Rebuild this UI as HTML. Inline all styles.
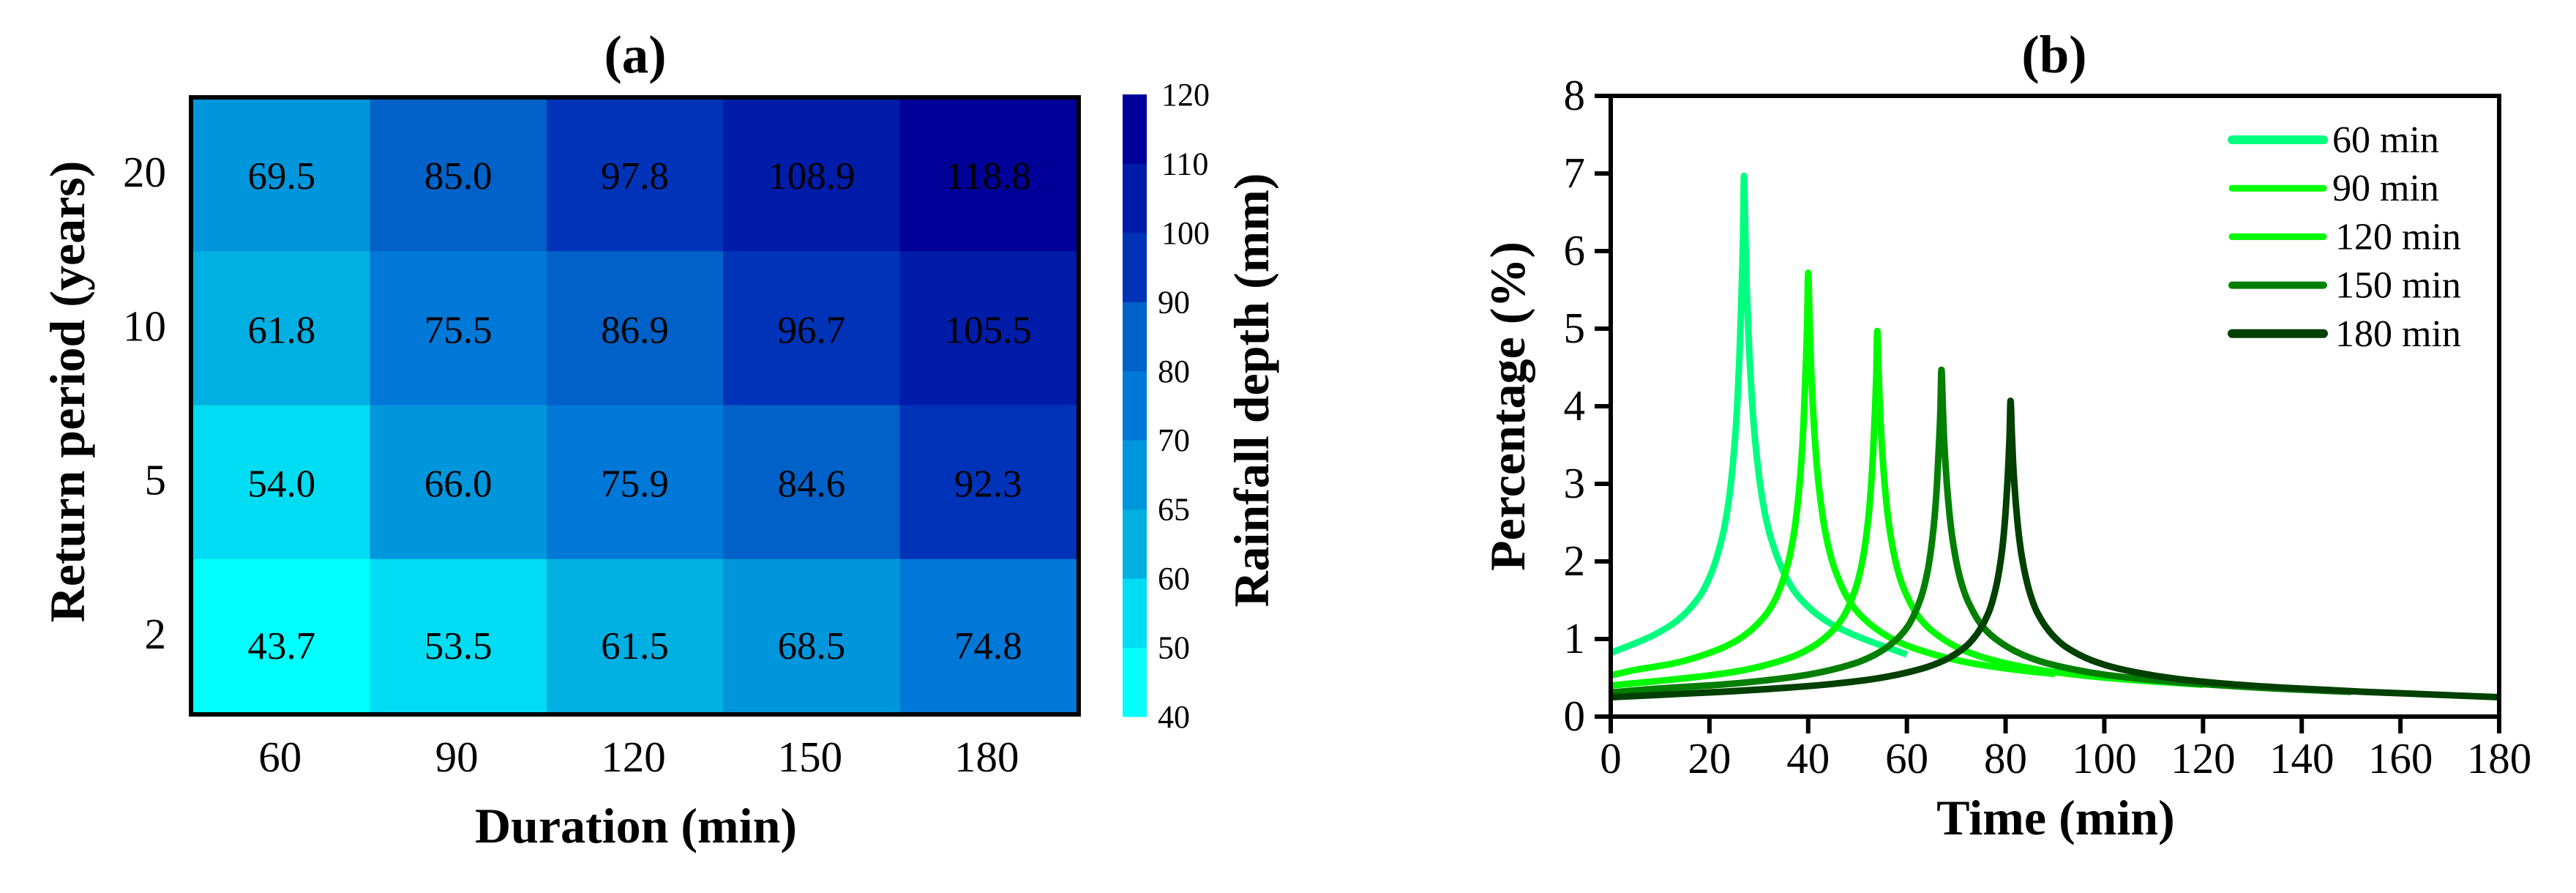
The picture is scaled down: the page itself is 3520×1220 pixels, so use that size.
<!DOCTYPE html>
<html lang="en">
<head>
<meta charset="utf-8">
<title>Rainfall depth heatmap and hyetographs</title>
<style>
  html, body { margin: 0; padding: 0; background: #ffffff; }
  svg { display: block; }
  text { font-family: "Liberation Serif", "Times New Roman", serif; fill: #000; }
  .bold { font-weight: bold; }
</style>
</head>
<body>
<svg id="figure" xmlns="http://www.w3.org/2000/svg" width="3520" height="1220" viewBox="0 0 3520 1220">
  <rect x="0" y="0" width="3520" height="1220" fill="#ffffff"/>
  <text class="bold" x="868" y="99" font-size="73" text-anchor="middle">(a)</text>
  <text class="bold" x="2807" y="99" font-size="73" text-anchor="middle">(b)</text>
  <text class="bold" x="869" y="1151" font-size="68" text-anchor="middle">Duration (min)</text>
  <text class="bold" font-size="68" text-anchor="middle" transform="translate(115 535) rotate(-90)">Return period (years)</text>
  <text class="bold" font-size="68" text-anchor="middle" transform="translate(1733 533) rotate(-90)">Rainfall depth (mm)</text>
  <text class="bold" x="2809" y="1140" font-size="68" text-anchor="middle">Time (min)</text>
  <text class="bold" font-size="68" text-anchor="middle" transform="translate(2083 555) rotate(-90)">Percentage (%)</text>
  <g id="heatmap"></g>
  <g id="colorbar"></g>
  <g id="linechart"></g>
  <g id="legend"></g>
</svg>
<script>
// ---------- Panel (a) data ----------
const durationLabels = ["60", "90", "120", "150", "180"];
const returnPeriodLabels = ["20", "10", "5", "2"];
const depth20yr = [69.5, 85.0, 97.8, 108.9, 118.8];
const depth10yr = [61.8, 75.5, 86.9, 96.7, 105.5];
const depth5yr = [54.0, 66.0, 75.9, 84.6, 92.3];
const depth2yr = [43.7, 53.5, 61.5, 68.5, 74.8];
const colorLevels = [40, 50, 60, 65, 70, 80, 90, 100, 110, 120];
const colorStops = ["#00ffff", "#00ddf2", "#00b0e2", "#0096dc", "#0078d8", "#0062c8", "#0033b8", "#001ca8", "#000099"];

// ---------- Panel (b) data ----------
const xTickValues = [0, 20, 40, 60, 80, 100, 120, 140, 160, 180];
const yTickValues = [0, 1, 2, 3, 4, 5, 6, 7, 8];
const seriesNames = ["60 min", "90 min", "120 min", "150 min", "180 min"];
const seriesColors = ["#00ff7f", "#00ff00", "#00f800", "#007f00", "#004000"];

const time60 = [0, 9, 13.5, 18, 20.25, 22.5, 23.4, 24.3, 25.2, 25.65, 26.1, 26.55, 26.8, 27, 27.3, 27.55, 28.1, 28.65, 29.2, 30.3, 31.4, 32.5, 35.25, 38, 43.5, 49, 60];
const pct60 = [0.82, 1.06, 1.24, 1.55, 1.83, 2.29, 2.57, 2.98, 3.60, 4.05, 4.67, 5.55, 6.18, 6.97, 6.18, 5.55, 4.67, 4.05, 3.60, 2.98, 2.57, 2.29, 1.83, 1.55, 1.24, 1.06, 0.80];

const time90 = [0, 4, 13, 22, 26.5, 31, 33.25, 35.5, 36.4, 37.3, 38.2, 38.65, 39.1, 39.55, 39.8, 40, 40.3, 40.55, 41.1, 41.65, 42.2, 43.3, 44.4, 45.5, 48.25, 51, 56.5, 62, 73, 84, 90];
const pct90 = [0.53, 0.59, 0.69, 0.87, 1.02, 1.28, 1.50, 1.88, 2.11, 2.44, 2.95, 3.32, 3.83, 4.56, 5.07, 5.72, 5.07, 4.56, 3.83, 3.32, 2.95, 2.44, 2.11, 1.88, 1.50, 1.28, 1.02, 0.87, 0.69, 0.59, 0.55];

const time120 = [0, 9, 18, 27, 36, 40.5, 45, 47.25, 49.5, 50.4, 51.3, 52.2, 52.65, 53.1, 53.55, 53.8, 54, 54.3, 54.55, 55.1, 55.65, 56.2, 57.3, 58.4, 59.5, 62.25, 65, 70.5, 76, 87, 98, 109, 120];
const pct120 = [0.40, 0.456, 0.515, 0.60, 0.753, 0.885, 1.11, 1.30, 1.63, 1.83, 2.12, 2.56, 2.89, 3.33, 3.96, 4.40, 4.97, 4.40, 3.96, 3.33, 2.89, 2.56, 2.12, 1.83, 1.63, 1.30, 1.11, 0.885, 0.753, 0.60, 0.515, 0.456, 0.41];

const time150 = [0, 8.5, 22, 31, 40, 49, 53.5, 58, 60.25, 62.5, 63.4, 64.3, 65.2, 65.65, 66.1, 66.55, 66.8, 67, 67.3, 67.55, 68.1, 68.65, 69.2, 70.3, 71.4, 72.5, 75.25, 78, 83.5, 89, 100, 111, 122, 138.5, 150];
const pct150 = [0.31, 0.357, 0.41, 0.464, 0.541, 0.677, 0.796, 1.00, 1.17, 1.47, 1.65, 1.91, 2.31, 2.60, 3.00, 3.56, 3.96, 4.47, 3.96, 3.56, 3.00, 2.60, 2.31, 1.91, 1.65, 1.47, 1.17, 1.00, 0.796, 0.677, 0.541, 0.464, 0.41, 0.35, 0.32];

const time180 = [0, 22.5, 36, 45, 54, 63, 67.5, 72, 74.25, 76.5, 77.4, 78.3, 79.2, 79.65, 80.1, 80.55, 80.8, 81, 81.3, 81.55, 82.1, 82.65, 83.2, 84.3, 85.4, 86.5, 89.25, 92, 97.5, 103, 114, 125, 136, 152.5, 180];
const pct180 = [0.25, 0.32, 0.374, 0.422, 0.492, 0.617, 0.724, 0.908, 1.07, 1.33, 1.50, 1.74, 2.10, 2.36, 2.73, 3.24, 3.61, 4.07, 3.61, 3.24, 2.73, 2.36, 2.10, 1.74, 1.50, 1.33, 1.07, 0.908, 0.724, 0.617, 0.492, 0.422, 0.374, 0.32, 0.25];

const seriesTimes = [time60, time90, time120, time150, time180];
const seriesPercents = [pct60, pct90, pct120, pct150, pct180];

// ---------- helpers ----------
const NS = "http://www.w3.org/2000/svg";
function make(tag, parent, props, content) {
  const el = document.createElementNS(NS, tag);
  for (const k in props) el.setAttribute(k, props[k]);
  if (content !== undefined) el.textContent = content;
  parent.appendChild(el);
  return el;
}
// Monotone cubic path through scaled data points (no overshoot between readings)
function smoothPath(px, py) {
  const n = px.length;
  const dx = [], m = [], tan = [];
  for (let i = 0; i < n - 1; i++) {
    dx[i] = px[i + 1] - px[i];
    m[i] = (py[i + 1] - py[i]) / dx[i];
  }
  tan[0] = m[0];
  tan[n - 1] = m[n - 2];
  for (let i = 1; i < n - 1; i++) {
    if (m[i - 1] * m[i] <= 0) {
      tan[i] = 0;
    } else {
      const w1 = 2 * dx[i] + dx[i - 1], w2 = dx[i] + 2 * dx[i - 1];
      tan[i] = (w1 + w2) / (w1 / m[i - 1] + w2 / m[i]);
    }
  }
  let d = "M" + px[0].toFixed(1) + " " + py[0].toFixed(1);
  for (let i = 0; i < n - 1; i++) {
    const h = dx[i] / 3;
    d += " C" + (px[i] + h).toFixed(1) + " " + (py[i] + tan[i] * h).toFixed(1) + " " +
         (px[i + 1] - h).toFixed(1) + " " + (py[i + 1] - tan[i + 1] * h).toFixed(1) + " " +
         px[i + 1].toFixed(1) + " " + py[i + 1].toFixed(1);
  }
  return d;
}

// ---------- Panel (a) heatmap ----------
const heatmap = document.getElementById("heatmap");
const depthRows = [depth20yr, depth10yr, depth5yr, depth2yr];
const heatLeft = 264, heatRight = 1471, heatTop = 133, heatBottom = 974;
const bandW = (heatRight - heatLeft) / durationLabels.length;
const bandH = (heatBottom - heatTop) / returnPeriodLabels.length;
const colX = i => heatLeft + i * bandW;
const rowY = i => heatTop + i * bandH;
function depthColor(v) {
  for (let i = 0; i < colorStops.length; i++) {
    if (v < colorLevels[i + 1]) return colorStops[i];
  }
  return colorStops[colorStops.length - 1];
}
depthRows.forEach((row, r) => {
  row.forEach((val, c) => {
    const cell = make("rect", heatmap, { x: colX(c), y: rowY(r), width: bandW + 0.5, height: bandH + 0.5, fill: depthColor(val) });
    
    
  });
});
depthRows.forEach((row, r) => {
  const dy = r === depthRows.length - 1 ? 31 : 20;
  row.forEach((val, c) => {
    const label = make("text", heatmap, { x: colX(c) + bandW / 2, y: rowY(r) + bandH / 2 + dy, "font-size": 53, "text-anchor": "middle" }, val.toFixed(1));
    
    
  });
});
const heatFrame = make("rect", heatmap, { x: 261, y: 133, width: 1213, height: 843, fill: "none", stroke: "#000", "stroke-width": 6 });


durationLabels.forEach((lab, c) => {
  const t = make("text", heatmap, { x: colX(c) + bandW / 2 - 2, y: 1054, "font-size": 59, "text-anchor": "middle" }, lab);
  
  
});
returnPeriodLabels.forEach((lab, r) => {
  const t = make("text", heatmap, { x: 227, y: rowY(r) + bandH / 2 + 17, "font-size": 59, "text-anchor": "end" }, lab);
  
  
});

// ---------- Colorbar ----------
const colorbar = document.getElementById("colorbar");
const barBottom = 979, barTop = 129, barX = 1534, barW = 33;
const barStep = (barBottom - barTop) / colorStops.length;
const barY = i => barBottom - i * barStep;
colorStops.forEach((col, i) => {
  const seg = make("rect", colorbar, { x: barX, y: barY(i + 1), width: barW, height: barStep + 0.5, fill: col });
  
  
});
colorLevels.forEach((lev, i) => {
  const t = make("text", colorbar, { x: lev >= 100 ? 1587 : 1582, y: barY(i) + 15, "font-size": 44 }, String(lev));
  
  
});

// ---------- Panel (b) line chart ----------
const chart = document.getElementById("linechart");
const plotLeft = 2201, plotRight = 3415, plotBottom = 979, plotTop = 131;
const xMax = xTickValues[xTickValues.length - 1];
const yMax = yTickValues[yTickValues.length - 1];
const xScale = t => plotLeft + (t / xMax) * (plotRight - plotLeft);
const yScale = v => plotBottom - (v / yMax) * (plotBottom - plotTop);

seriesTimes.forEach((times, s) => {
  const px = times.map(xScale);
  const py = seriesPercents[s].map(yScale);
  const line = make("path", chart, { d: smoothPath(px, py), fill: "none", stroke: seriesColors[s], "stroke-width": 9, "stroke-linejoin": "round", "stroke-linecap": "butt" });
  
  
});

const chartFrame = make("rect", chart, { x: plotLeft, y: plotTop, width: plotRight - plotLeft, height: plotBottom - plotTop, fill: "none", stroke: "#000", "stroke-width": 6 });



xTickValues.forEach(v => {
  const tick = make("line", chart, { x1: xScale(v), x2: xScale(v), y1: plotBottom, y2: plotBottom + 23, stroke: "#000", "stroke-width": 6 });
  
  
  const lab = make("text", chart, { x: xScale(v), y: 1056, "font-size": 59, "text-anchor": "middle" }, String(v));
  
  
});
yTickValues.forEach(v => {
  const tick = make("line", chart, { x1: plotLeft - 22, x2: plotLeft, y1: yScale(v), y2: yScale(v), stroke: "#000", "stroke-width": 6 });
  
  
  const lab = make("text", chart, { x: 2166, y: yScale(v) + 19, "font-size": 59, "text-anchor": "end" }, String(v));
  
  
});

// ---------- Legend ----------
const legend = document.getElementById("legend");
const legendWidths = [12, 9, 9, 10, 12];
seriesNames.forEach((name, s) => {
  const y = 191 + s * 66.2;
  const swatch = make("line", legend, { x1: 3050, x2: 3175, y1: y, y2: y, stroke: seriesColors[s], "stroke-width": legendWidths[s], "stroke-linecap": "round" });
  
  
  const lab = make("text", legend, { x: name.length > 6 ? 3191 : 3187, y: y + 17, "font-size": 52 }, name);
  
  
});
</script>
</body>
</html>
